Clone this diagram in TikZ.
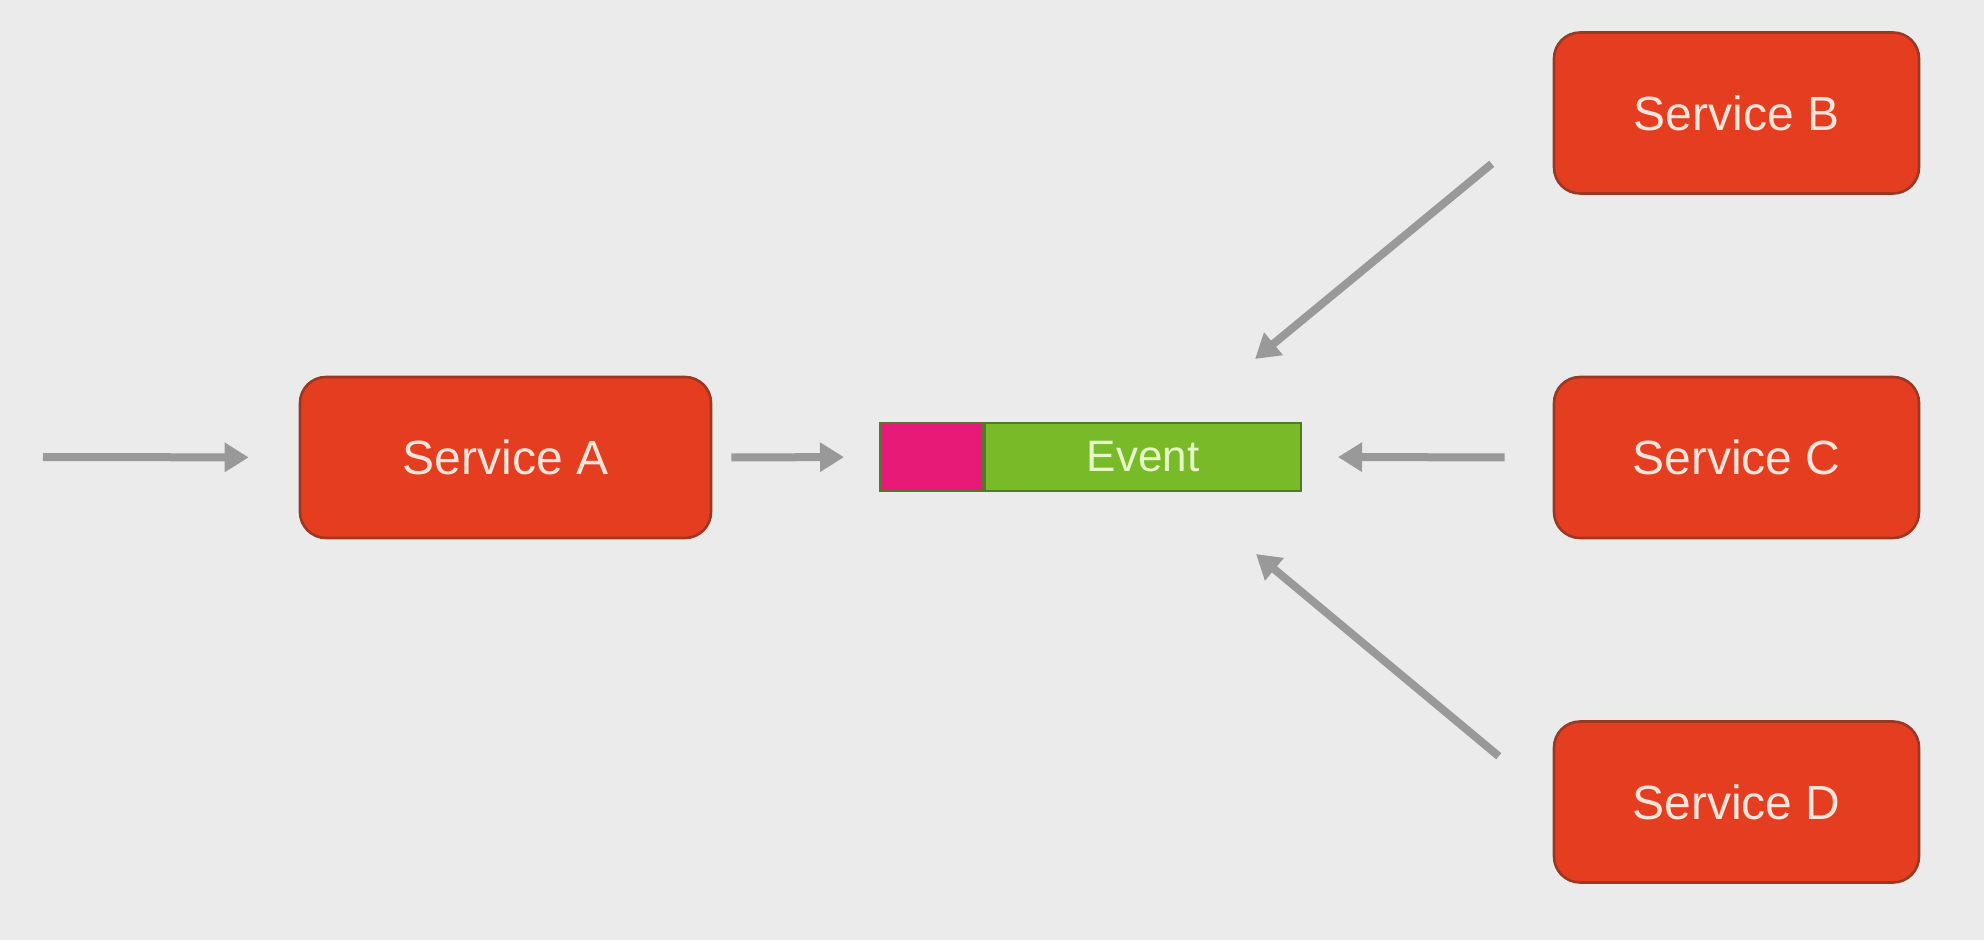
\documentclass[tikz,border=0pt]{standalone}
\usepackage{fontspec}
\setmainfont{Liberation Sans}
\usetikzlibrary{arrows.meta,positioning,calc}
\definecolor{bg}{HTML}{EBEBEB}
\definecolor{svcfill}{HTML}{E53D20}
\definecolor{svcline}{HTML}{9A3822}
\definecolor{svctext}{HTML}{FBE4DA}
\definecolor{arrgray}{HTML}{999999}
\definecolor{evpink}{HTML}{E81A78}
\definecolor{evgreen}{HTML}{78BA28}
\definecolor{evline}{HTML}{52782A}
\definecolor{evtext}{HTML}{E6F8C8}
\tikzset{
  svc/.style={draw=svcline, line width=1.3pt, fill=svcfill, rounded corners=13pt,
    minimum height=80.5pt, text=svctext, font=\fontsize{24}{27}\selectfont,
    inner sep=0pt, anchor=center},
  svcA/.style={svc, minimum width=205.5pt},
  svcR/.style={svc, minimum width=182.5pt},
  evhead/.style={draw=evline, line width=1pt, fill=evpink, minimum width=51.5pt,
    minimum height=34pt, inner sep=0pt},
  evbody/.style={draw=evline, line width=1pt, fill=evgreen, minimum width=158pt,
    minimum height=34pt, inner sep=0pt, text=evtext, font=\fontsize{22}{25}\selectfont},
  arr/.style={draw=arrgray, line width=4pt, -{Triangle[length=12pt,width=14pt]}}
}
\begin{document}
\begin{tikzpicture}[x=0.5pt,y=-0.5pt]
\useasboundingbox (0,0) rectangle (1984,940);
\fill[bg] (0,0) rectangle (1984,940);

\node[svcA] (A) at (505.5,457.5) {Service A};
\node[svcR] (B) at (1736.5,113) {Service B};
\node[svcR] (C) at (1736.5,457.5) {Service C};
\node[svcR] (D) at (1736.5,802) {Service D};

\node[evhead] (eh) at (931.5,457) {};
\node[evbody, anchor=west] (eb) at (eh.east) {Event};

\coordinate (in) at (43,457);
\coordinate (bs) at ([shift={(-61,-31)}]B.south west);
\coordinate (bt) at ([shift={(-47,-63)}]eb.north east);
\coordinate (ds) at ([shift={(-54,36)}]D.north west);
\coordinate (dt) at ([shift={(-46,62)}]eb.south east);

\draw[arr, shorten >=25pt] (in) -- (A.west);
\draw[arr, shorten <=9.5pt, shorten >=17.5pt] (A.east) -- (eh.west);
\draw[arr, shorten <=24pt, shorten >=18pt] (C.west) -- (eb.east);
\draw[arr] (bs) -- (bt);
\draw[arr] (ds) -- (dt);
\end{tikzpicture}
\end{document}
